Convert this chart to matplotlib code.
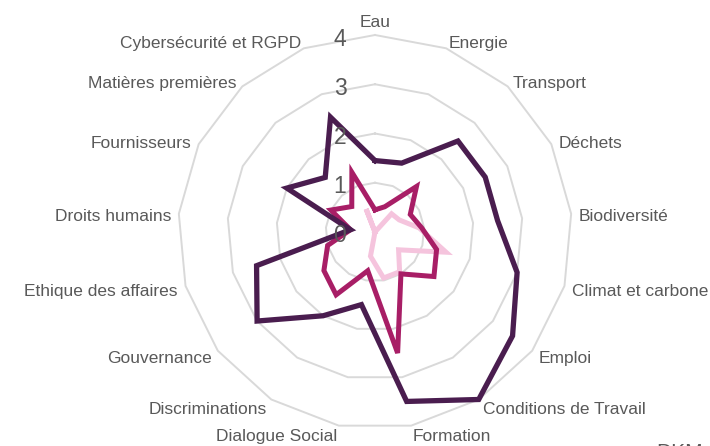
import numpy as np
import matplotlib
matplotlib.use("Agg")
import matplotlib.pyplot as plt
from matplotlib.transforms import offset_copy

categories = ["Eau", "Energie", "Transport", "Déchets", "Biodiversité",
              "Climat et carbone", "Emploi", "Conditions de Travail", "Formation",
              "Dialogue Social", "Discriminations", "Gouvernance",
              "Ethique des affaires", "Droits humains", "Fournisseurs",
              "Matières premières", "Cybersécurité et RGPD"]
series_dark = [1.45, 1.5, 2.5, 2.5, 2.5, 3, 3.5, 4, 3.5, 1.5, 2, 3, 2.5, 0.5, 2, 1.5, 2.5]
series_mid = [0.45, 0.55, 1.25, 0.8, 0.95, 1.3, 1.5, 1.0, 2.5, 0.8, 1.5, 1.3, 1.0, 0.5, 1.0, 0.7, 1.3]
series_light = [0, 0, 0.5, 0.55, 0.9, 1.5, 0.6, 0.95, 0.95, 0.5, 0, 0, 0, 0, 0, 0, 0.5]
ticks = [0, 1, 2, 3, 4]

W, H = 710, 446
fig = plt.figure(figsize=(W / 100, H / 100), dpi=100)
cx, cy, R = 375, 232, 197
ax = fig.add_axes([(cx - R) / W, (H - cy - R) / H, 2 * R / W, 2 * R / H], projection="polar")
ax.set_theta_offset(np.pi / 2)
ax.set_theta_direction(-1)
ax.set_ylim(0, 4)
ax.set_axis_off()

n = len(categories)
ang = np.arange(n) * 2 * np.pi / n
angc = np.append(ang, ang[0])

grid_col = "#D9D9D9"
for t in ticks[1:]:
    ax.plot(angc, [t] * (n + 1), color=grid_col, lw=1.4, zorder=1, clip_on=False)

def closed(v):
    return np.append(v, v[0])

ax.plot(angc, closed(series_light), color="#F5C4DD", lw=3.6, zorder=3, solid_joinstyle="miter", clip_on=False)
ax.plot(angc, closed(series_mid), color="#A81E66", lw=3.6, zorder=4, solid_joinstyle="miter", clip_on=False)
ax.plot(angc, closed(series_dark), color="#4A1D4F", lw=3.8, zorder=5, solid_joinstyle="miter", clip_on=False)

txt_col = "#595959"
font = "Liberation Sans"
tl = offset_copy(ax.transData, fig=fig, x=0, y=-3, units="dots")
for a, lab in zip(ang, categories):
    s = np.sin(a)
    va = "center"
    if abs(s) < 1e-6:
        ha = "center"
        va = "bottom"
    elif s > 0:
        ha = "left"
    else:
        ha = "right"
    ax.text(a, 4.16, lab, ha=ha, va=va, fontsize=12.5, color=txt_col,
            family=font, clip_on=False, transform=tl)

tr = offset_copy(ax.transData, fig=fig, x=-35, y=-4, units="dots")
for t in ticks:
    ax.text(0, t, str(t), transform=tr, ha="center", va="center", fontsize=16.5,
            color=txt_col, family=font, zorder=6)

fig.text(0.925, -0.014, "DKM", fontsize=15, color=txt_col, family=font, ha="left", va="center")

fig.savefig("out.png", dpi=100)
